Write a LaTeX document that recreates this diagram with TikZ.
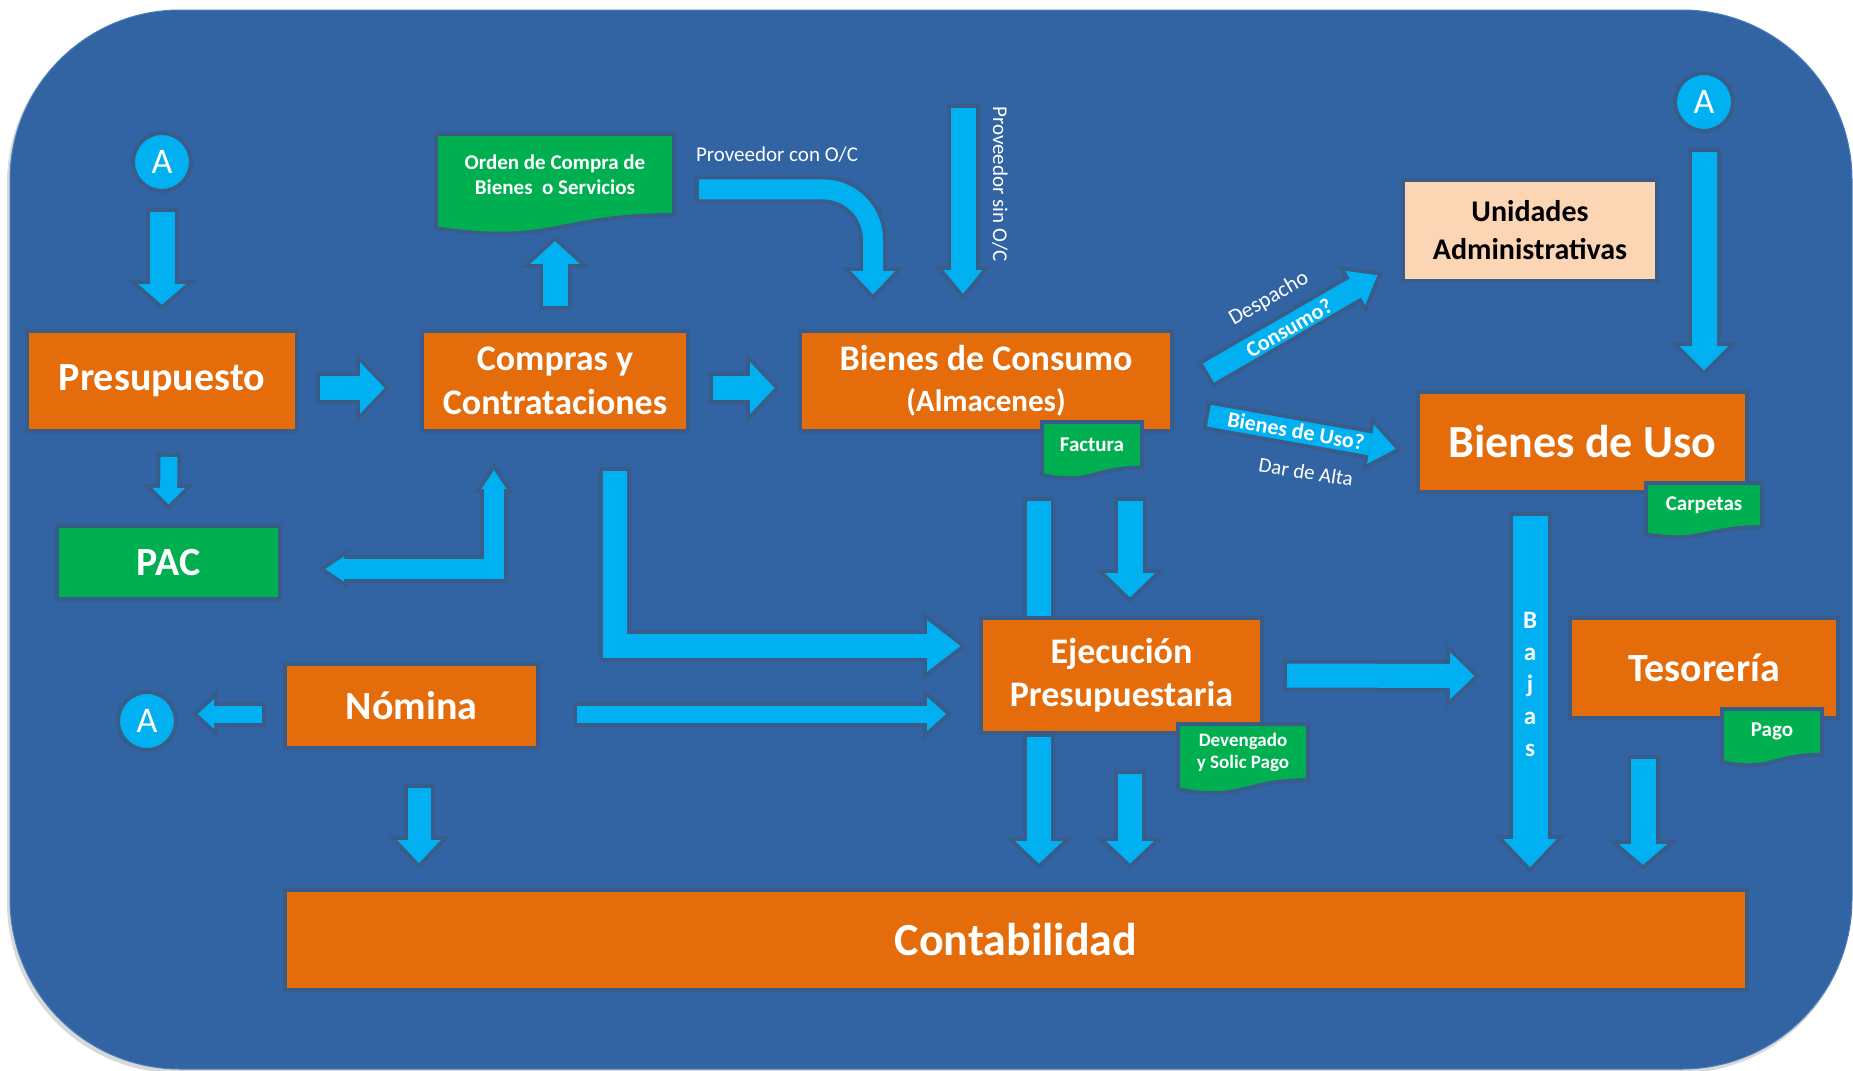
\documentclass[tikz,border=0pt]{standalone}
\usepackage{fontspec}
\setmainfont{Carlito}
\usetikzlibrary{arrows.meta}
\definecolor{bgBlue}{HTML}{3264A4}
\definecolor{bgEdge}{HTML}{4A7EBB}
\definecolor{edge}{HTML}{385D8A}
\definecolor{boxOrange}{HTML}{E46C0A}
\definecolor{flow}{HTML}{00B0F0}
\definecolor{docGreen}{HTML}{00B050}
\definecolor{peach}{HTML}{FCD5B5}
\newcommand{\fsize}[2]{\fontsize{#1}{#2}\selectfont}
\tikzstyle{box}=[draw=edge, line width=4pt, fill=boxOrange, text=white, align=center, inner sep=0pt, outer sep=0pt]
\tikzstyle{peachBox}=[box, fill=peach, text=black]
\tikzstyle{greenBox}=[box, fill=docGreen]
\tikzstyle{docShape}=[fill=docGreen, draw=edge, line width=4pt, line join=miter]
\tikzstyle{docText}=[inner sep=0pt, outer sep=0pt, text=white, align=center]
\tikzstyle{circ}=[circle, draw=edge, line width=4pt, fill=flow, text=white, minimum size=58pt, inner sep=0pt, outer sep=0pt, font=\fsize{36}{36}]
\tikzstyle{flowLabel}=[text=white, inner sep=0pt, font=\fsize{21}{21}]
\tikzset{
  blk/.code n args={3}{%
    \pgfmathsetmacro\blkTip{4*sqrt((#2/2)^2+(#3)^2)/(#2/2)}%
    \pgfmathsetmacro\blkInL{#3-4-\blkTip}%
    \pgfmathsetmacro\blkInW{#2*\blkInL/#3}%
    \pgfmathsetmacro\blkOut{#1+8}%
    \tikzset{draw=flow, line width=#1pt, line join=miter,
      shorten <=4pt, shorten >=\blkTip pt,
      -{Triangle[length=\blkInL pt, width=\blkInW pt, line width=0pt]},
      preaction={draw=edge, line width=\blkOut pt, shorten <=0pt, shorten >=0pt,
        -{Triangle[length=#3pt, width=#2pt, line width=0pt]}}}},
  blk2/.code n args={3}{%
    \pgfmathsetmacro\blkTip{4*sqrt((#2/2)^2+(#3)^2)/(#2/2)}%
    \pgfmathsetmacro\blkInL{#3-4-\blkTip}%
    \pgfmathsetmacro\blkInW{#2*\blkInL/#3}%
    \pgfmathsetmacro\blkOut{#1+8}%
    \tikzset{draw=flow, line width=#1pt, line join=miter,
      shorten <=\blkTip pt, shorten >=\blkTip pt,
      {Triangle[length=\blkInL pt, width=\blkInW pt, line width=0pt]}-{Triangle[length=\blkInL pt, width=\blkInW pt, line width=0pt]},
      preaction={draw=edge, line width=\blkOut pt, shorten <=0pt, shorten >=0pt,
        {Triangle[length=#3pt, width=#2pt, line width=0pt]}-{Triangle[length=#3pt, width=#2pt, line width=0pt]}}}},
  blkBar/.style={draw=flow, line width=#1pt, shorten <=4pt,
    preaction={draw=edge, line width=#1pt+8pt, shorten <=0pt}},
}
% document shape: name, left, top, width, height, font, text
\newcommand\nodeDoc{}
\def\nodeDoc(#1)#2#3#4#5#6#7{%
  \filldraw[docShape] (#2,#3) -- ({#2+#4},#3) -- ({#2+#4},{#3+0.802*#5})
    .. controls ({#2+0.5*#4},{#3+0.802*#5}) and ({#2+0.5*#4},{#3+1.1075*#5}) .. (#2,{#3+0.934*#5}) -- cycle;
  \node[docText, minimum width=#4, minimum height={0.8*#5}, font=#6] (#1) at ({#2+0.5*#4},{#3+0.4*#5}) {#7};
}

\begin{document}
\begin{tikzpicture}[x=1pt, y=-1pt]
  \useasboundingbox (0,0) rectangle (1853,1071);
  % background
  \fill[black, opacity=0.15, rounded corners=170pt] (7,13) rectangle (1851,1073);
  \filldraw[fill=bgBlue, draw=bgEdge, line width=1pt, rounded corners=170pt] (10,10) rectangle (1852,1069);

  % boxes
  \node[box, minimum width=270, minimum height=100, font=\fsize{40}{48}\bfseries] (pres) at (162,381) {Presupuesto};
  \node[box, minimum width=266, minimum height=100, font=\fsize{36}{44}\bfseries] (compras) at (555,381) {Compras y\\Contrataciones};
  \node[box, minimum width=372, minimum height=100, font=\fsize{36}{41}\bfseries] (consumo) at (986,381) {Bienes de Consumo\\{\fsize{31}{41}(Almacenes)}};
  \node[peachBox, minimum width=254, minimum height=101, font=\fsize{30}{38}\bfseries] (unidades) at (1530,230.5) {Unidades\\Administrativas};
  \node[box, minimum width=329, minimum height=100, font=\fsize{46}{50}\bfseries] (uso) at (1582.5,442) {Bienes de Uso};
  \node[greenBox, minimum width=223, minimum height=73, font=\fsize{40}{48}\bfseries] (pac) at (168.5,562.5) {PAC};
  \node[box, minimum width=253, minimum height=84, font=\fsize{40}{48}\bfseries] (nomina) at (411.5,706) {Nómina};
  \node[box, minimum width=281, minimum height=115, font=\fsize{36}{43}\bfseries] (ejec) at (1121.5,675.5) {Ejecución\\Presupuestaria};
  \node[box, minimum width=268, minimum height=100, font=\fsize{40}{48}\bfseries] (teso) at (1704,668) {Tesorería};
  \node[box, minimum width=1462, minimum height=100, font=\fsize{46}{50}\bfseries] (conta) at (1016,940) {Contabilidad};

  % documents
  \nodeDoc(orden){436}{134}{238}{101}{\fsize{21}{25}\bfseries}{Orden de Compra de\\Bienes~ o Servicios}
  \nodeDoc(factura){1042}{422}{100}{57}{\fsize{21}{25}\bfseries}{Factura}
  \nodeDoc(carpetas){1646}{483}{116}{55}{\fsize{21}{25}\bfseries}{Carpetas}
  \nodeDoc(deveng){1178}{724}{130}{70}{\fsize{19}{22}\bfseries}{Devengado\\y Solic Pago}
  \nodeDoc(pago){1722}{709}{100}{57}{\fsize{21}{25}\bfseries}{Pago}

  % connectors
  \node[circ] (aTop) at (162,162) {A};
  \node[circ] (aRight) at (1704,102) {A};
  \node[circ] (aLeft) at (147,721) {A};
  \coordinate (sinOC) at (963,104);

  \draw[blk={25}{69}{30}] ([yshift=-17pt]aTop.south) -- ([yshift=21pt]pres.north);
  \draw[blk={24}{72}{34}] ([xshift=19pt,yshift=-7pt]pres.east) -- ([xshift=-32pt,yshift=-7pt]compras.west);
  \draw[blk={24}{72}{34}] ([xshift=21pt,yshift=-7pt]compras.east) -- ([xshift=-20pt,yshift=-7pt]consumo.west);
  \draw[blk={17}{52}{26}] ([xshift=7pt,yshift=-22pt]pres.south) -- ([yshift=16pt]pac.north);
  \draw[blk2={20}{40}{30}] ([xshift=38pt,yshift=-6.5pt]pac.east) -| ([xshift=-61pt,yshift=-32pt]compras.south);
  \draw[blk={25}{70}{32}] ([yshift=21pt]compras.north) -- ([yshift=-21pt]orden.south);
  \draw[blk={20}{63}{33}, rounded corners=50pt] ([xshift=21pt,yshift=-15pt]orden.east) -| ([xshift=-113pt,yshift=31pt]consumo.north);
  \draw[blk={25}{56}{34}] (sinOC) -- ([xshift=-23pt,yshift=31pt]consumo.north);
  \draw[blk={22}{56}{36}] ([xshift=33pt,yshift=6pt]consumo.east) -- ([xshift=-20pt,yshift=-41.5pt]unidades.west);
  \draw[blk={22}{56}{36}] ([xshift=33pt,yshift=-34pt]consumo.east) -- ([xshift=-16pt,yshift=-8pt]uso.west);
  \draw[blk={25}{68}{34}] ([yshift=-17pt]aRight.south) -- ([xshift=121.5pt,yshift=16pt]uso.north);
  \draw[blkBar=24] ([xshift=-53pt,yshift=-29pt]factura.south) -- ([xshift=-82.5pt,yshift=2pt]ejec.north);
  \draw[blk={25}{70}{34}] ([xshift=38pt,yshift=-29pt]factura.south) -- ([xshift=8.5pt,yshift=15pt]ejec.north);
  \draw[blk={24}{68}{44}] ([xshift=60pt,yshift=-36pt]compras.south) |- ([xshift=-14pt,yshift=29.5pt]ejec.west);
  \draw[blk={17}{52}{29}] ([xshift=35pt,yshift=-8pt]nomina.east) -- ([xshift=-29pt,yshift=-38.5pt]ejec.west);
  \draw[blk={17}{48}{26}] ([xshift=-19pt,yshift=-8pt]nomina.west) -- ([xshift=16pt,yshift=7pt]aLeft.east);
  \draw[blk={23}{62}{33}] ([xshift=7.5pt,yshift=-36pt]nomina.south) -- ([xshift=134pt,yshift=21pt]conta.north west);
  \draw[blk={24}{68}{32}] ([xshift=-82.5pt]ejec.south) -- ([xshift=754pt,yshift=21pt]conta.north west);
  \draw[blk={24}{68}{32}] ([xshift=8.5pt,yshift=-37pt]ejec.south) -- ([xshift=845pt,yshift=21pt]conta.north west);
  \draw[blk={24}{66}{34}] ([xshift=21pt]ejec.east) -- ([xshift=-90pt,yshift=-8pt]teso.west);
  \draw[blk={35}{72}{38}] ([xshift=-52.5pt,yshift=-20pt]uso.south) -- ([xshift=1245pt,yshift=17pt]conta.north west);
  \draw[blk={25}{70}{30}] ([xshift=-61pt,yshift=-37pt]teso.south) -- ([xshift=1358pt,yshift=20pt]conta.north west);

  % labels
  \node[flowLabel] (conOC) at (777,155) {Proveedor con O/C};
  \node[flowLabel, rotate=-90] (sinOCLabel) at (1000,184) {Proveedor sin O/C};
  \node[flowLabel, rotate=30, font=\fsize{22}{22}] (despacho) at (1269,299) {Despacho};
  \node[flowLabel, rotate=30, font=\fsize{22}{22}\bfseries] (consumoQ) at (1289,328) {Consumo?};
  \node[flowLabel, rotate=-10, font=\fsize{22}{22}\bfseries] (usoQ) at (1296,431) {Bienes de Uso?};
  \node[flowLabel, rotate=-9, font=\fsize{21}{21}] (alta) at (1306,472) {Dar de Alta};
  \node[flowLabel, align=center, font=\fsize{25}{32}\bfseries] (bajas) at (1530,684) {B\\a\\j\\a\\s};
\end{tikzpicture}
\end{document}
